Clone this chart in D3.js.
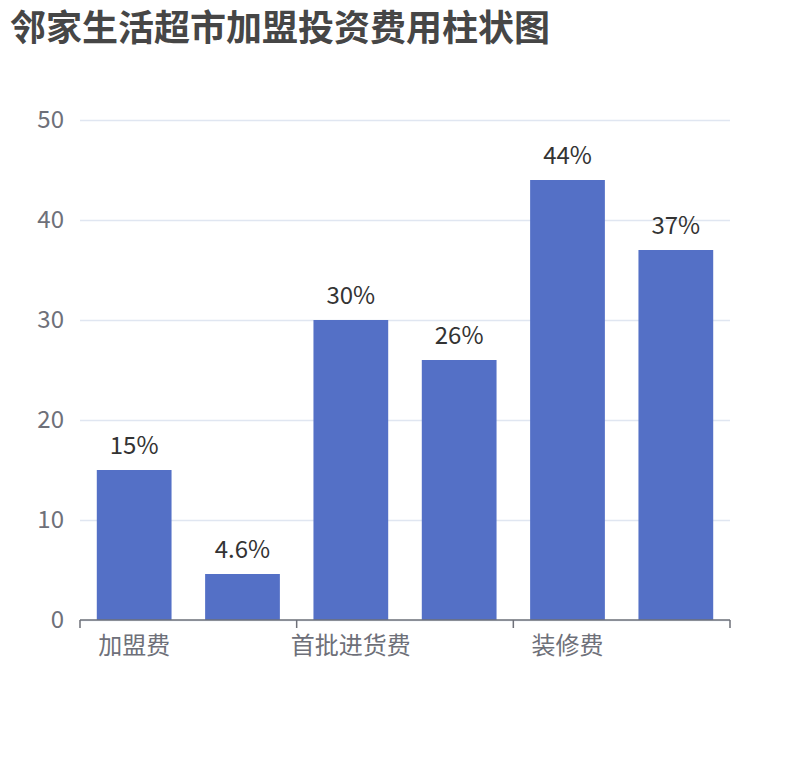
<!DOCTYPE html>
<html>
<head>
<meta charset="UTF-8">
<title>邻家生活超市加盟投资费用柱状图</title>
<script src="https://cdn.jsdelivr.net/npm/d3@7/dist/d3.min.js"></script>
<style>
  body { margin: 0; background: #fff; }
  svg text { font-family: "Noto Sans CJK SC", "Noto Sans", sans-serif; }
</style>
</head>
<body>
<svg width="810" height="760"></svg>
<script>
// 数据
var title = "邻家生活超市加盟投资费用柱状图";
var categories = ["加盟费", "保证金", "首批进货费", "设备费", "装修费", "其他费用"];
var values = [15, 4.6, 30, 26, 44, 37];
var yTicks = [0, 10, 20, 30, 40, 50];

var svg = d3.select("svg");
// 绘图区边界（注意不要用 top，会和 window.top 冲突）
var gLeft = 80, gRight = 730, gTop = 120, gBottom = 620;

var x = d3.scaleBand()
  .domain(categories)
  .range([gLeft, gRight])
  .paddingInner(0.31)
  .paddingOuter(0.155);

var y = d3.scaleLinear().domain([0, 50]).range([gBottom, gTop]);

// 标题
svg.append("text")
  .attr("x", 10).attr("y", 41)
  .style("font-size", "36px")
  .style("font-weight", "bold")
  .attr("fill", "#464646")
  .text(title);

// y轴 + 网格线
var yAxis = svg.append("g")
  .attr("transform", "translate(" + gLeft + ",0)")
  .call(d3.axisLeft(y).tickValues(yTicks).tickSize(-(gRight - gLeft)).tickPadding(16));
yAxis.select(".domain").remove();
yAxis.selectAll("line")
  .attr("stroke", "#e0e6f1")
  .attr("stroke-width", 1.5);
yAxis.selectAll("text")
  .attr("fill", "#6e7079")
  .style("font-size", "24px");

// 柱子
svg.selectAll("rect.bar")
  .data(values)
  .enter()
  .append("rect")
  .attr("class", "bar")
  .attr("x", function(d, i) { return x(categories[i]); })
  .attr("y", function(d) { return y(d); })
  .attr("width", x.bandwidth())
  .attr("height", function(d) { return gBottom - y(d); })
  .attr("fill", "#5470c6");

// 数值标签
svg.selectAll("text.val")
  .data(values)
  .enter()
  .append("text")
  .attr("class", "val")
  .attr("x", function(d, i) { return x(categories[i]) + x.bandwidth() / 2; })
  .attr("y", function(d) { return y(d) - 16; })
  .attr("text-anchor", "middle")
  .attr("fill", "#333")
  .style("font-size", "24px")
  .text(function(d) { return d + "%"; });

// x轴（标签间隔显示，刻度跟随标签）
var gx = svg.append("g");
gx.append("line")
  .attr("x1", gLeft).attr("x2", gRight)
  .attr("y1", gBottom).attr("y2", gBottom)
  .attr("stroke", "#6e7079")
  .attr("stroke-width", 1.5);

var half = x.step() * x.paddingInner() / 2;
var shown = categories.filter(function(c, i) { return i % 2 === 0; });
var tickXs = shown.map(function(c) { return x(c) - half; }).concat([gRight]);

gx.selectAll("line.tick")
  .data(tickXs)
  .enter()
  .append("line")
  .attr("x1", function(d) { return d; })
  .attr("x2", function(d) { return d; })
  .attr("y1", gBottom).attr("y2", gBottom + 8)
  .attr("stroke", "#6e7079")
  .attr("stroke-width", 1.5);

gx.selectAll("text")
  .data(shown)
  .enter()
  .append("text")
  .attr("x", function(c) { return x(c) + x.bandwidth() / 2; })
  .attr("y", gBottom + 34)
  .attr("text-anchor", "middle")
  .attr("fill", "#6e7079")
  .style("font-size", "24px")
  .text(function(c) { return c; });
</script>
</body>
</html>
